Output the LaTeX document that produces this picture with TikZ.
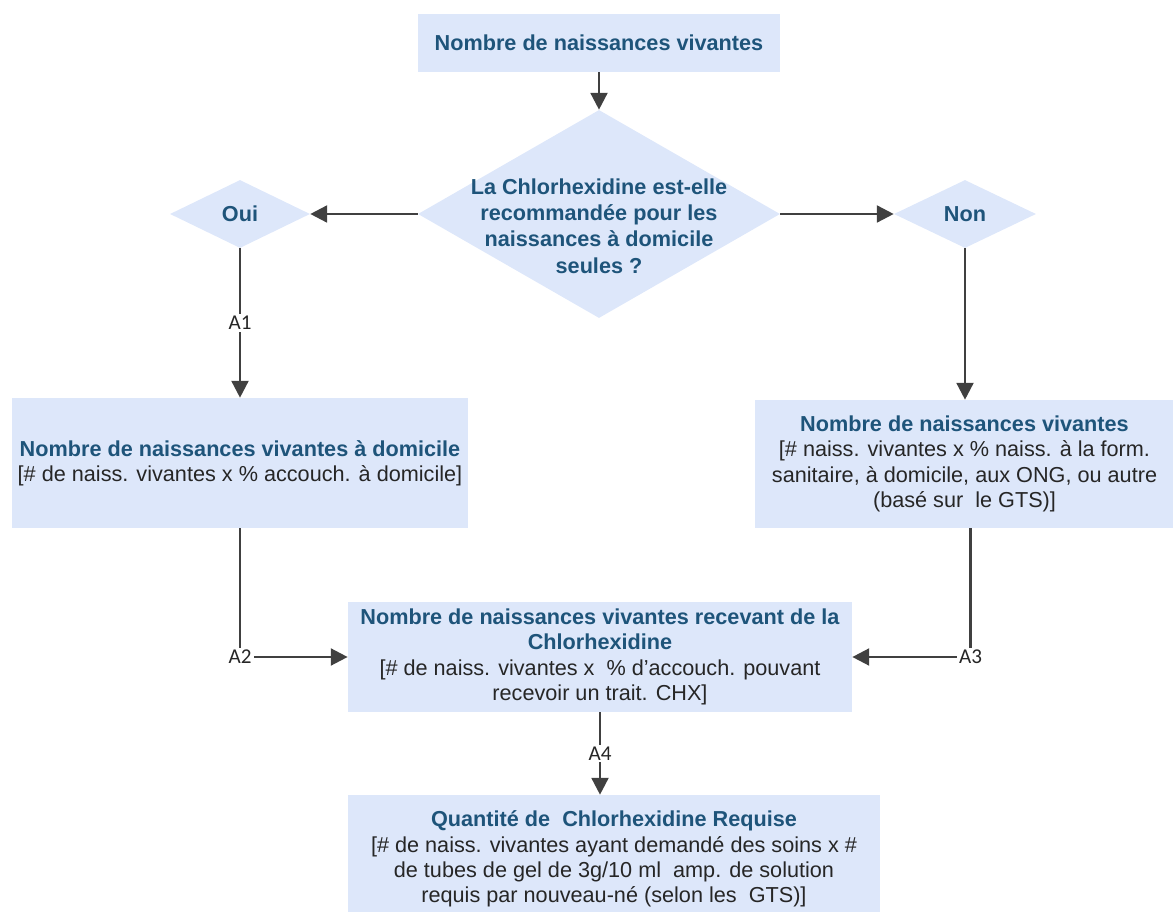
\documentclass[tikz,border=0pt]{standalone}
\usepackage{fontspec}
\setmainfont{Liberation Sans}
\newfontfamily\tagfont{Carlito}
\usetikzlibrary{shapes.geometric,arrows.meta}
\definecolor{boxfill}{RGB}{221,231,250}
\definecolor{titleblue}{RGB}{30,84,122}
\definecolor{linegray}{RGB}{64,64,64}
\definecolor{bodytext}{RGB}{38,38,38}
\newcommand{\ttl}[1]{\textcolor{titleblue}{\textbf{#1}}}
\begin{document}
\begin{tikzpicture}[x=0.025cm, y=-0.025cm,
    box/.style={rectangle, fill=boxfill, inner sep=0pt, align=center, text=bodytext, font=\fontsize{15.4}{18}\selectfont},
    choice/.style={diamond, fill=boxfill, inner sep=0pt},
    flow/.style={draw=linegray, line width=1.8pt, -{Triangle[length=0.42cm, width=0.42cm]}},
    tag/.style={fill=white, inner sep=1.5pt, text=bodytext, font=\tagfont\fontsize{15}{16}\selectfont}]

    \useasboundingbox (0,0) rectangle (1173,912);

    % haut
    \node[box, minimum width=9.05cm, minimum height=1.45cm] (nv) at (599,43) {\ttl{Nombre de naissances vivantes}};
    \node[choice, minimum width=9.05cm, minimum height=5.2cm] (q) at (599,214) {};
    \node[align=center, font=\fontsize{15.4}{18.8}\selectfont\bfseries, text=titleblue] at ([yshift=-0.3cm]q.center) {La Chlorhexidine est-elle\\recommandée pour les\\naissances à domicile\\seules ?};
    \node[choice, minimum width=3.5cm, minimum height=1.7cm, font=\fontsize{15.4}{18}\selectfont] (oui) at (240,214) {\ttl{Oui}};
    \node[choice, minimum width=3.55cm, minimum height=1.7cm, font=\fontsize{15.4}{18}\selectfont] (non) at (965,214) {\ttl{Non}};

    \draw[flow] (nv) -- (q);
    \draw[flow] (q) -- (oui);
    \draw[flow] (q) -- (non);

    % milieu
    \node[box, minimum width=11.4cm, minimum height=3.25cm] (dom) at (240,463) {\ttl{Nombre de naissances vivantes à domicile}\\{}[\# de naiss. vivantes x \% accouch. à domicile]};
    \node[box, minimum width=10.45cm, minimum height=3.2cm] (tous) at (964.5,464) {\ttl{Nombre de naissances vivantes}\\{}[\# naiss. vivantes x \% naiss. à la form.\\sanitaire, à domicile, aux ONG, ou autre\\(basé sur~ le GTS)]};

    \draw[flow] (oui) -- node[tag] {A1} (dom);
    \draw[flow] (non) -- (non |- tous.north);

    % bas
    \node[box, minimum width=12.6cm, minimum height=2.75cm] (chx) at (600,657) {\ttl{Nombre de naissances vivantes recevant de la}\\\ttl{Chlorhexidine}\\{}[\# de naiss. vivantes x~ \% d’accouch. pouvant\\recevoir un trait. CHX]};
    \node[box, minimum width=13.3cm, minimum height=3.2cm] (qte) at (614,859) {\ttl{Quantité de~ Chlorhexidine Requise}\\{}[\# de naiss. vivantes ayant demandé des soins x \#\\de tubes de gel de 3g/10 ml~ amp. de solution\\requis par nouveau-né (selon les~ GTS)]};

    \draw[flow] (dom.south) |- node[tag] {A2} (chx.west);
    \draw[flow] ([xshift=0.15cm]tous.south) |- node[tag] {A3} (chx.east);
    \draw[flow] (chx.south) -- node[tag] {A4} (chx.south |- qte.north);
\end{tikzpicture}
\end{document}
